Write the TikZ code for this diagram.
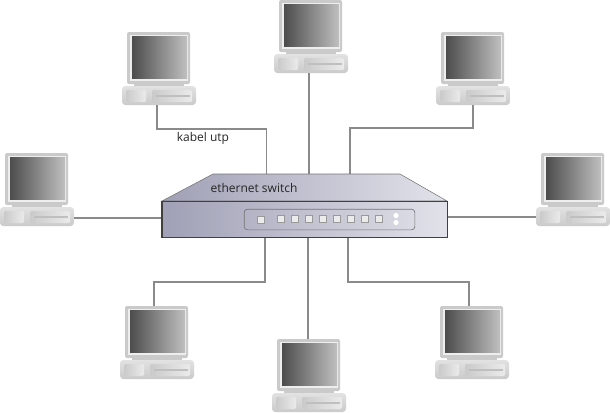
\documentclass[tikz,border=0pt]{standalone}
\usepackage{fontspec}
\setmainfont{Open Sans}
\definecolor{kabelgray}{HTML}{8A8A8A}
\definecolor{pcbody}{HTML}{E2E2E2}
\definecolor{pcedge}{HTML}{CACACA}
\definecolor{swdark}{HTML}{A0A0B6}
\definecolor{swlight}{HTML}{E2E2EA}
\tikzset{
	kabel/.style={draw=kabelgray, line width=0.9pt},
	pc/.pic={
		% monitor
		\fill[pcedge, rounded corners=1.5] (5,0) rectangle (68,52);
		\fill[pcbody!60!white] (8,3) rectangle (66,49);
		\shade[left color=black!70, right color=black!25] (10,4) rectangle (65,46);
		\fill[pcedge] (12,52) rectangle (62,54);
		% base
		\shade[top color=pcbody, bottom color=pcedge, rounded corners=2.5] (0,54) rectangle (74,73);
		\shade[left color=pcedge, right color=pcbody!70!white, rounded corners=1] (4,58) rectangle (24,70);
		\shade[left color=pcedge, right color=pcbody!70!white, rounded corners=1] (30,58) rectangle (70,70);
		\fill[black!25] (34,63) rectangle (68,65);
		\coordinate (-top) at (34,0);
		\coordinate (-bot) at (35,73);
		\coordinate (-left) at (0,64);
		\coordinate (-right) at (74,65);
	},
	swport/.style={draw=black!40, fill=black!8, line width=0.5pt, minimum size=5.5pt, inner sep=0pt},
}
\begin{document}
\begin{tikzpicture}[x=0.75pt, y=-0.75pt]
	\useasboundingbox (0,0) rectangle (610,412);
	% computers
	\pic (pca) at (122,32) {pc};
	\pic (pcb) at (274,0) {pc};
	\pic (pcc) at (436,32) {pc};
	\pic (pcd) at (0,153) {pc};
	\pic (pce) at (536,153) {pc};
	\pic (pcf) at (120,306) {pc};
	\pic (pcg) at (272,339) {pc};
	\pic (pch) at (435,306) {pc};
	% bends of the cables
	\coordinate (benda) at (200,129);
	\coordinate (bendc) at (400,128);
	\coordinate (bendf) at (200,282);
	\coordinate (bendh) at (400,282);
	\coordinate (swa) at (266.5,174);
	\coordinate (swb) at (309,174);
	\coordinate (swc) at (350,174);
	\coordinate (swf) at (265,238);
	\coordinate (swg) at (308,238);
	\coordinate (swh) at (348,238);
	% cables
	\draw[kabel] (pca-bot) |- (benda) -| (swa);
	\draw[kabel] (pcb-bot) -- (swb);
	\draw[kabel] ([xshift=1.5pt]pcc-bot) |- (bendc) -| (swc);
	\draw[kabel] (pcd-right) -- (162,218);
	\draw[kabel] (447,217) -- (pce-left);
	\draw[kabel] (swf) |- (bendf) -| (pcf-top);
	\draw[kabel] (swg) -- (swg |- pcg-top);
	\draw[kabel] (swh) |- (bendh) -| (pch-top);
	% switch
	\shade[left color=swdark, right color=swlight, draw=black!55, line width=0.4pt] (162,201) -- (213,174) -- (400,174) -- (447,201) -- cycle;
	\node[draw=black!75, line width=0.9pt, left color=swdark, right color=swlight, minimum width=214pt, minimum height=27.5pt, inner sep=0pt] (switch) at (304.75,219.5) {};
	\node[draw=black!55, line width=0.5pt, rounded corners=2.5pt, minimum width=128pt, minimum height=15.5pt, inner sep=0pt] (panel) at (329.5,219.5) {};
	\node[swport] (uplink) at (261,220) {};
	\foreach \i in {0,...,7}
		\node[swport] (port\i) at (281+14*\i,219) {};
	\fill[white] (396,215.5) circle (2.6) (396,222.5) circle (2.6);
	% labels
	\node[font=\fontsize{9}{11}\selectfont, text=black!85, inner sep=0pt] (kabellabel) at (203,138) {kabel utp};
	\node[font=\fontsize{9}{11}\selectfont, text=black!85, inner sep=0pt] (switchlabel) at (254,188) {ethernet switch};
\end{tikzpicture}
\end{document}
